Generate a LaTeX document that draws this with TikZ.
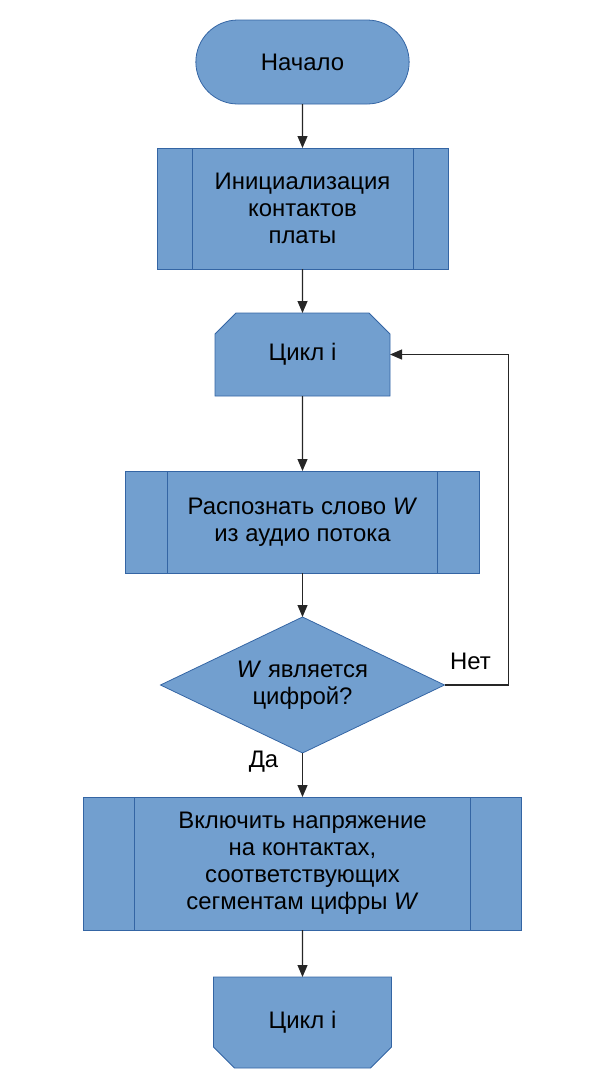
\documentclass[tikz,border=0pt]{standalone}
\usepackage{fontspec}
\setmainfont{Liberation Sans}
\usetikzlibrary{shapes.geometric,shapes.misc,arrows.meta,positioning}
\definecolor{boxfill}{HTML}{729FCF}
\definecolor{boxline}{HTML}{3465A4}

\tikzset{
  block/.style={draw=boxline, fill=boxfill, line width=0.45pt, outer sep=0pt, align=center,
    font=\fontsize{13.6}{15.4}\selectfont},
  terminal/.style={block, rounded rectangle, minimum width=4.5cm, minimum height=1.68cm},
  subproc/.style={block, rectangle},
  loopbox/.style={block, chamfered rectangle, chamfered rectangle xsep=0.2cm,
    chamfered rectangle ysep=0.22cm},
  decision/.style={block, diamond, aspect=2.09, inner sep=0pt, minimum width=5.68cm, minimum height=2.72cm},
  bar/.style={draw=boxline, line width=0.45pt},
  line/.style={draw=black!85, line width=0.6pt, -{Triangle[length=0.24cm,width=0.2cm]}},
  lbl/.style={font=\fontsize{13.6}{15.4}\selectfont}
}

\begin{document}
\begin{tikzpicture}
\useasboundingbox (0,0) rectangle (12.1,-21.78);

\node[terminal] (start) at (6.05,-1.24) {Начало};
\node[subproc, minimum width=5.82cm, minimum height=2.42cm, below=0.88cm of start] (init)
  {Инициализация\\контактов\\платы};
\node[loopbox, chamfered rectangle corners={north west,north east},
  minimum width=3.5cm, minimum height=1.66cm, below=0.88cm of init] (loop) {Цикл i};
\node[subproc, minimum width=7.08cm, minimum height=2.04cm, below=1.5cm of loop] (recog)
  {Распознать слово \textit{W}\\из аудио потока};
\node[decision, below=0.88cm of recog] (dec) {\textit{W} является\\цифрой?};
\node[subproc, minimum width=8.76cm, minimum height=2.66cm, below=0.88cm of dec] (act)
  {Включить напряжение\\на контактах,\\соответствующих\\сегментам цифры \textit{W}};
\node[loopbox, chamfered rectangle corners={south west,south east},
  minimum width=3.56cm, minimum height=1.82cm, below=0.94cm of act] (loopend) {Цикл i};

% side bars of the subprocess boxes
\foreach \n/\d in {init/0.7, recog/0.84, act/1.02} {
  \draw[bar] ([xshift=\d cm]\n.north west) -- ([xshift=\d cm]\n.south west);
  \draw[bar] ([xshift=-\d cm]\n.north east) -- ([xshift=-\d cm]\n.south east);
}

\draw[line] (start) -- (init);
\draw[line] (init) -- (loop);
\draw[line] (loop) -- (recog);
\draw[line] (recog) -- (dec);
\draw[line] (dec) -- (act);
\draw[line] (act) -- (loopend);
\draw[line] (dec.east) -- ++(1.28,0) |- (loop.east);

\node[lbl] (no) at ([shift={(0.52,0.48)}]dec.east) {Нет};
\node[lbl] (yes) at ([shift={(-0.78,-0.18)}]dec.south) {Да};
\end{tikzpicture}
\end{document}
